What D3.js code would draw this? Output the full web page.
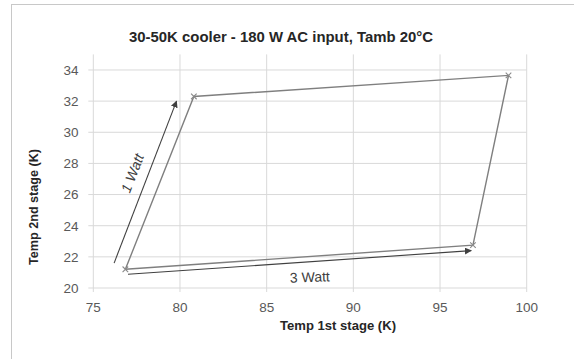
<!DOCTYPE html>
<html><head><meta charset="utf-8">
<script src="https://cdn.jsdelivr.net/npm/d3@7"></script>
<style>html,body{margin:0;padding:0;background:#fff;}svg{display:block;}</style>
</head><body>
<svg id="c" width="574" height="359"></svg>
<script>
// Data
const title = "30-50K cooler - 180 W AC input, Tamb 20°C";
const xLabel = "Temp 1st stage (K)";
const yLabel = "Temp 2nd stage (K)";
const xTicks = [75, 80, 85, 90, 95, 100];
const yTicks = [20, 22, 24, 26, 28, 30, 32, 34];
const loopT1 = [76.85, 80.8, 98.95, 96.9, 76.85];
const loopT2 = [21.2, 32.3, 33.65, 22.75, 21.2];
const arrowLabels = ["1 Watt", "3 Watt"];
const arrowStartT1 = [76.2, 77.0];
const arrowStartT2 = [21.6, 20.88];
const arrowEndT1 = [79.8, 96.8];
const arrowEndT2 = [32.0, 22.4];

const svg = d3.select("#c");
const m = {l: 93.3, r: 526.7, t: 54.4, b: 288};
const x = d3.scaleLinear().domain([75, 100]).range([m.l, m.r]);
const y = d3.scaleLinear().domain([20, 35]).range([m.b, m.t]);

// frame
svg.append("rect").attr("x", 11.5).attr("y", 4.5).attr("width", 600).attr("height", 400)
  .attr("fill", "none").attr("stroke", "#c8c8c8").attr("stroke-width", 1);

// gridlines
const g = svg.append("g");
g.selectAll("line.v").data(xTicks).join("line")
  .attr("x1", d => x(d)).attr("x2", d => x(d))
  .attr("y1", m.t).attr("y2", m.b + 4)
  .attr("stroke", "#d9d9d9").attr("stroke-width", 1);
g.selectAll("line.h").data(yTicks).join("line")
  .attr("x1", m.l - 5).attr("x2", m.r)
  .attr("y1", d => y(d)).attr("y2", d => y(d))
  .attr("stroke", "#d9d9d9").attr("stroke-width", 1);

const font = "'Liberation Sans', Arial, sans-serif";
// tick labels
svg.append("g").selectAll("text").data(xTicks).join("text")
  .attr("x", d => x(d)).attr("y", 311.5).attr("text-anchor", "middle")
  .attr("font-family", font).attr("font-size", 13.5).attr("fill", "#595959")
  .text(d => d);
svg.append("g").selectAll("text").data(yTicks).join("text")
  .attr("x", 78.5).attr("y", d => y(d) + 4.8).attr("text-anchor", "end")
  .attr("font-family", font).attr("font-size", 13.5).attr("fill", "#595959")
  .text(d => d);

// title & axis labels
svg.append("text").attr("x", 281).attr("y", 41.5).attr("text-anchor", "middle")
  .attr("font-family", font).attr("font-weight", "bold").attr("font-size", 14.5)
  .attr("fill", "#262626").attr("textLength", 304).attr("lengthAdjust", "spacingAndGlyphs")
  .text(title);
svg.append("text").attr("x", 338).attr("y", 330).attr("text-anchor", "middle")
  .attr("font-family", font).attr("font-weight", "bold").attr("font-size", 13)
  .attr("fill", "#262626").attr("textLength", 116).attr("lengthAdjust", "spacingAndGlyphs")
  .text(xLabel);
svg.append("text").attr("transform", "translate(38,207) rotate(-90)").attr("text-anchor", "middle")
  .attr("font-family", font).attr("font-weight", "bold").attr("font-size", 13)
  .attr("fill", "#262626").attr("textLength", 116).attr("lengthAdjust", "spacingAndGlyphs")
  .text(yLabel);

// loop line
const pts = loopT1.map((d, i) => [d, loopT2[i]]);
const line = d3.line().x(d => x(d[0])).y(d => y(d[1]));
svg.append("path").attr("d", line(pts)).attr("fill", "none")
  .attr("stroke", "#7f7f7f").attr("stroke-width", 1.4);
// x markers
const mk = svg.append("g");
pts.slice(0, 4).forEach(p => {
  const cx = x(p[0]), cy = y(p[1]), s = 2.8;
  mk.append("path").attr("d", `M${cx-s},${cy-s}L${cx+s},${cy+s}M${cx-s},${cy+s}L${cx+s},${cy-s}`)
    .attr("stroke", "#8a8a8a").attr("stroke-width", 1.1);
});

// arrows
const defs = svg.append("defs");
defs.append("marker").attr("id", "ah").attr("viewBox", "0 0 10 10").attr("refX", 9).attr("refY", 5)
  .attr("markerWidth", 7).attr("markerHeight", 7).attr("markerUnits", "userSpaceOnUse")
  .attr("orient", "auto")
  .append("path").attr("d", "M0,0L10,5L0,10z").attr("fill", "#404040");
arrowLabels.forEach((lab, i) => {
  const x1 = x(arrowStartT1[i]), y1 = y(arrowStartT2[i]);
  const x2 = x(arrowEndT1[i]), y2 = y(arrowEndT2[i]);
  svg.append("line").attr("x1", x1).attr("y1", y1).attr("x2", x2).attr("y2", y2)
    .attr("stroke", "#404040").attr("stroke-width", 1.1).attr("marker-end", "url(#ah)");
});
// arrow labels
{
  const i = 0;
  const ang = Math.atan2(y(arrowEndT2[i]) - y(arrowStartT2[i]), x(arrowEndT1[i]) - x(arrowStartT1[i])) * 180 / Math.PI;
  svg.append("text").attr("transform", `translate(137,175) rotate(${ang})`).attr("text-anchor", "middle")
    .attr("font-family", font).attr("font-style", "italic").attr("font-size", 14).attr("fill", "#404040")
    .text(arrowLabels[i]);
}
{
  svg.append("text").attr("transform", `translate(310,282) rotate(-2)`).attr("text-anchor", "middle")
    .attr("font-family", font).attr("font-size", 14).attr("fill", "#404040")
    .text(arrowLabels[1]);
}
</script>
</body></html>
